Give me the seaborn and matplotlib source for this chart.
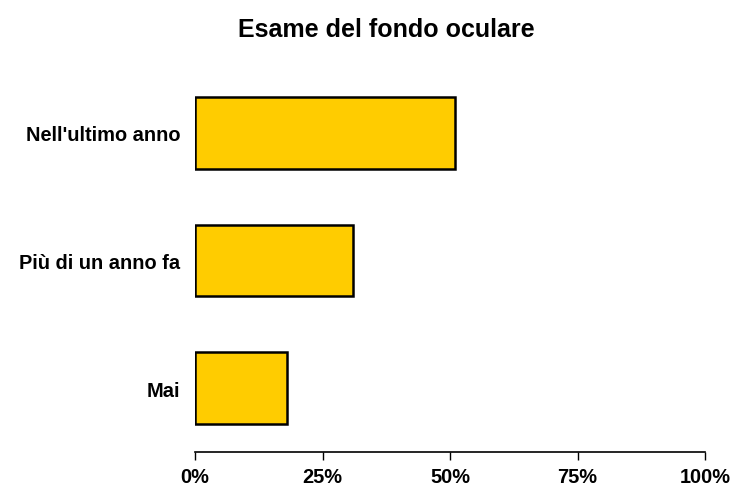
import pandas as pd
import numpy as np
import matplotlib.pyplot as plt
import seaborn as sns
from matplotlib.ticker import PercentFormatter

CATEGORIES = ["Nell'ultimo anno", "Più di un anno fa", "Mai"]
VALUES = [51, 31, 18]
TICKS = [0, 25, 50, 75, 100]

sns.set_style("white")
plt.rcParams['font.family'] = ['Liberation Sans', 'DejaVu Sans']
plt.rcParams['text.color'] = 'black'
plt.rcParams['xtick.color'] = 'black'
plt.rcParams['ytick.color'] = 'black'

df = pd.DataFrame({'cat': CATEGORIES, 'val': VALUES})

fig = plt.figure(figsize=(7.45, 4.89), dpi=100)
ax = fig.add_axes([195 / 745, 1 - 453 / 489, 510 / 745, (453 - 70) / 489])

sns.barplot(data=df, x='val', y='cat', orient='h', color='#ffcc00', saturation=1,
            edgecolor='black', linewidth=1.8, width=0.56, ax=ax)

ax.set_xlim(0, 100)
ax.set_ylim(2.5, -0.5)
ax.set_xticks(TICKS)
ax.xaxis.set_major_formatter(PercentFormatter(decimals=0))
ax.set_xlabel('')
ax.set_ylabel('')
for s in ['top', 'right', 'left']:
    ax.spines[s].set_visible(False)
ax.spines['bottom'].set_linewidth(1.2)
ax.spines['bottom'].set_color('black')
ax.tick_params(axis='x', bottom=True, length=6, width=1, color='black', pad=5)
ax.tick_params(axis='y', left=False, pad=7)
for lab in ax.get_xticklabels() + ax.get_yticklabels():
    lab.set_fontweight('bold')
    lab.set_fontsize(14.4)
    lab.set_color('black')

fig.text(386 / 745, 1 - 30 / 489, 'Esame del fondo oculare', ha='center', va='center',
         fontsize=18, fontweight='bold', color='black')

fig.savefig('out.png', dpi=100)
